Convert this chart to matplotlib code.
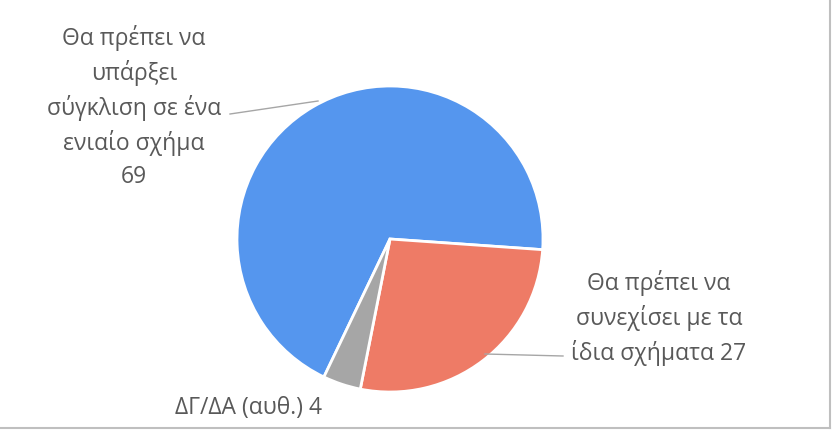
import matplotlib.pyplot as plt

# data
labels = ["Θα πρέπει να\nυπάρξει\nσύγκλιση σε ένα\nενιαίο σχήμα\n69",
          "Θα πρέπει να\nσυνεχίσει με τα\nίδια σχήματα 27",
          "ΔΓ/ΔΑ (αυθ.) 4"]
values = [69, 27, 4]
colors = ["#5596EE", "#EE7B66", "#A6A6A6"]

W, H = 832, 431
fig = plt.figure(figsize=(W / 100, H / 100), dpi=100)
ax = fig.add_axes([0, 0, 1, 1])

cx, cy, r = 390, H - 240, 153
ax.pie(values, colors=colors, startangle=244.4, counterclock=False,
       center=(cx, cy), radius=r, explode=[0, 0.025, 0],
       wedgeprops=dict(edgecolor="white", linewidth=2), frame=True)
ax.set_xlim(0, W)
ax.set_ylim(0, H)
ax.set_aspect("equal")
ax.axis("off")

txt = dict(color="#595959", fontsize=16.5, family="Open Sans", ha="center",
           va="center", linespacing=1.45)
ax.text(134, H - 107, labels[0], **txt)
ax.text(659, H - 318, labels[1], **txt)
ax.text(248, H - 408, labels[2], **txt)

# leader lines
lc = "#A6A6A6"
ax.plot([230, 318], [H - 115, H - 102], color=lc, lw=1)
ax.plot([485, 563], [H - 355, H - 357], color=lc, lw=1)

# frame edges on right and bottom
fig.add_artist(plt.Line2D([829.5 / W, 829.5 / W], [2 / H, 1], color="#BFBFBF", lw=1.5))
fig.add_artist(plt.Line2D([0, 830 / W], [2 / H, 2 / H], color="#BFBFBF", lw=1.5))

fig.savefig("out.png", dpi=100)
